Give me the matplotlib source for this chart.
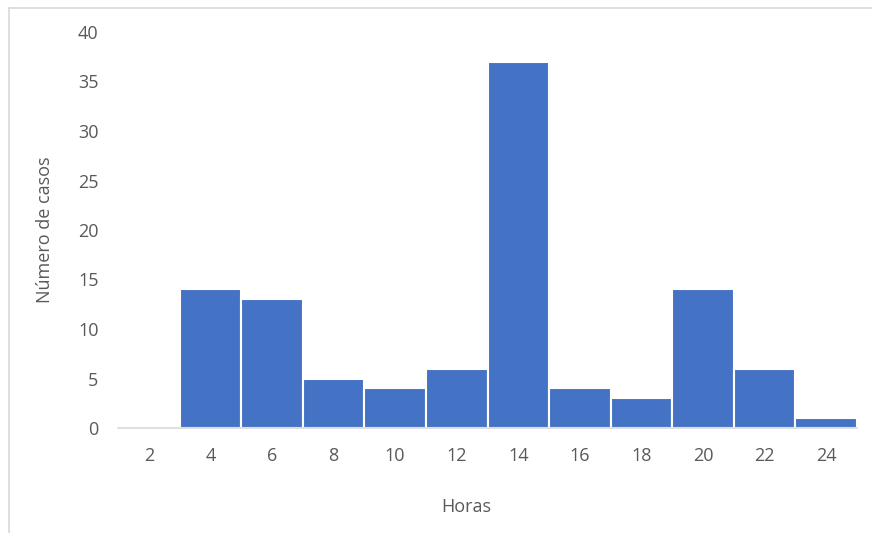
import matplotlib
matplotlib.use("Agg")
import matplotlib.pyplot as plt
from matplotlib.lines import Line2D

# Data
horas = ["2", "4", "6", "8", "10", "12", "14", "16", "18", "20", "22", "24"]
casos = [0, 14, 13, 5, 4, 6, 37, 4, 3, 14, 6, 1]

plt.rcParams["font.family"] = ["Open Sans", "DejaVu Sans"]
text_color = "#595959"
fsize = 13

fig = plt.figure(figsize=(8.72, 5.33), dpi=100)
ax = fig.add_axes([118 / 872, 1 - 428 / 533, 739 / 872, 396 / 533])

# Bars
x = list(range(len(horas)))
ax.bar(x, casos, width=1.0, color="#4472C4", edgecolor="white", linewidth=1.5)

ax.set_xlim(-0.5, len(horas) - 0.5)
ax.set_ylim(0, 40)
ax.set_yticks(range(0, 41, 5))
ax.set_xticks(x)
ax.set_xticklabels(horas)

# Style like Excel
for side in ["top", "right", "left"]:
    ax.spines[side].set_visible(False)
ax.spines["bottom"].set_color("#D9D9D9")
ax.spines["bottom"].set_linewidth(1.2)
ax.tick_params(axis="both", length=0, labelsize=fsize, colors=text_color)
ax.tick_params(axis="y", pad=14)
ax.tick_params(axis="x", pad=14)

ax.set_ylabel("Número de casos", fontsize=fsize, color=text_color)
ax.set_xlabel("Horas", fontsize=fsize, color=text_color)
ax.yaxis.set_label_coords(-0.086, 0.5)
ax.xaxis.set_label_coords(0.471, -0.177)

# Chart border (left and top only visible)
fig.add_artist(Line2D([8.5 / 872, 8.5 / 872], [0, 1 - 7.5 / 533], color="#D9D9D9", linewidth=1.2))
fig.add_artist(Line2D([8.5 / 872, 1], [1 - 7.5 / 533, 1 - 7.5 / 533], color="#D9D9D9", linewidth=1.2))

plt.savefig("out.png", dpi=100)
plt.close()
